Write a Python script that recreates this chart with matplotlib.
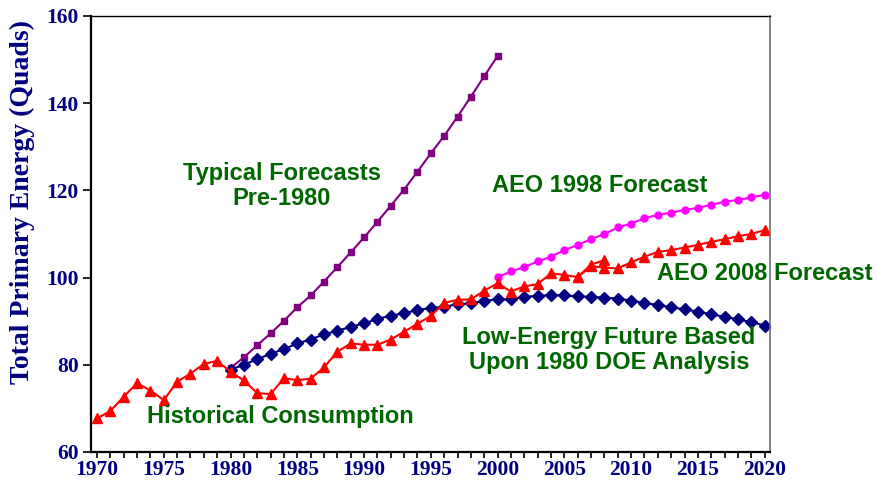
import matplotlib.pyplot as plt
from matplotlib.ticker import MultipleLocator

# historical consumption 1970-2008
hist_years = list(range(1970, 2009))
hist_vals = [67.7, 69.4, 72.7, 75.8, 74.1, 71.9, 76.1, 78.0, 80.2, 80.9,
             78.4, 76.4, 73.5, 73.3, 76.9, 76.5, 76.8, 79.4, 83.0, 84.9,
             84.6, 84.6, 85.8, 87.6, 89.4, 91.2, 94.2, 94.9, 95.0, 97.0,
             98.7, 96.8, 98.0, 98.5, 101.0, 100.6, 100.1, 103.0, 104.0]

# AEO 2008 forecast 2006-2020
aeo08_years = list(range(2006, 2021))
aeo08_vals = [100.1, 102.6, 102.3, 102.1, 103.5, 104.8, 105.9, 106.3, 106.9,
              107.5, 108.2, 108.8, 109.5, 110.0, 110.9]

# typical pre-1980 forecasts 1980-2000
pre80_years = list(range(1980, 2001))
pre80_vals = [79.3, 81.7, 84.5, 87.2, 90.1, 93.2, 95.9, 99.1, 102.4, 105.8,
              109.2, 112.8, 116.5, 120.2, 124.3, 128.5, 132.5, 136.9, 141.5,
              146.2, 150.8]

# low-energy future (1980 DOE analysis) 1980-2020
low_years = list(range(1980, 2021))
low_vals = [78.9, 80.0, 81.3, 82.5, 83.6, 84.9, 85.8, 87.0, 87.8, 88.7,
            89.5, 90.5, 91.3, 91.8, 92.6, 93.0, 93.3, 93.9, 94.1, 94.7,
            95.0, 95.0, 95.6, 95.8, 96.0, 95.9, 95.7, 95.6, 95.4, 95.2,
            94.7, 94.2, 93.7, 93.2, 92.7, 92.2, 91.6, 91.0, 90.4, 89.8, 89.0]

# AEO 1998 forecast 2000-2020
aeo98_years = list(range(2000, 2021))
aeo98_vals = [100.1, 101.4, 102.4, 103.7, 104.8, 106.3, 107.5, 108.8, 110.0,
              111.5, 112.4, 113.6, 114.4, 114.9, 115.5, 116.0, 116.7, 117.4,
              117.8, 118.4, 119.0]

green = '#006600'
navy = '#000080'

fig = plt.figure(figsize=(8.77, 4.91), dpi=100)
ax = fig.add_axes([91/877, 1 - 452/491, (770 - 91)/877, (452 - 16)/491])

ax.plot(pre80_years, pre80_vals, color='#800080', lw=1.5, marker='s', ms=5)
ax.plot(low_years, low_vals, color=navy, lw=1.5, marker='D', ms=6.5)
ax.plot(aeo98_years, aeo98_vals, color='#FF00FF', lw=1.5, marker='o', ms=5)
ax.plot(aeo08_years, aeo08_vals, color='#FF0000', lw=1.5, marker='^', ms=7)
ax.plot(hist_years, hist_vals, color='#FF0000', lw=1.5, marker='^', ms=7)

ax.set_xlim(1969.55, 2020.4)
ax.set_ylim(60, 160)
ax.xaxis.set_major_locator(MultipleLocator(5))
ax.xaxis.set_minor_locator(MultipleLocator(1))
ax.yaxis.set_major_locator(MultipleLocator(20))
ax.tick_params(axis='x', which='both', direction='out', length=4, width=1.2, pad=2)
ax.tick_params(axis='y', direction='out', length=6, width=1.2, pad=3)

for lab in ax.get_xticklabels() + ax.get_yticklabels():
    lab.set_fontfamily('Liberation Serif')
    lab.set_fontweight('bold')
    lab.set_fontsize(15.5)
    lab.set_color(navy)

for s in ['left', 'bottom']:
    ax.spines[s].set_linewidth(1.6)
ax.spines['top'].set_linewidth(1.0)
ax.spines['right'].set_color('#707070')
ax.spines['right'].set_linewidth(1.2)

fig.text(22/877, 1 - 202/491, 'Total Primary Energy (Quads)', rotation=90,
         ha='center', va='center', fontsize=20, fontweight='bold',
         family='Liberation Serif', color=navy)

tkw = dict(fontsize=17, fontweight='bold', family='Liberation Sans',
           color=green, ha='center', va='center', linespacing=1.1)
fig.text(282/877, 1 - 186/491, 'Typical Forecasts\nPre-1980', **tkw)
fig.text(600/877, 1 - 185/491, 'AEO 1998 Forecast', **tkw)
fig.text(765/877, 1 - 273/491, 'AEO 2008 Forecast', **tkw)
fig.text(609/877, 1 - 350/491, 'Low-Energy Future Based\nUpon 1980 DOE Analysis', **tkw)
fig.text(280/877, 1 - 416/491, 'Historical Consumption', **tkw)

fig.savefig('out.png', dpi=100)
